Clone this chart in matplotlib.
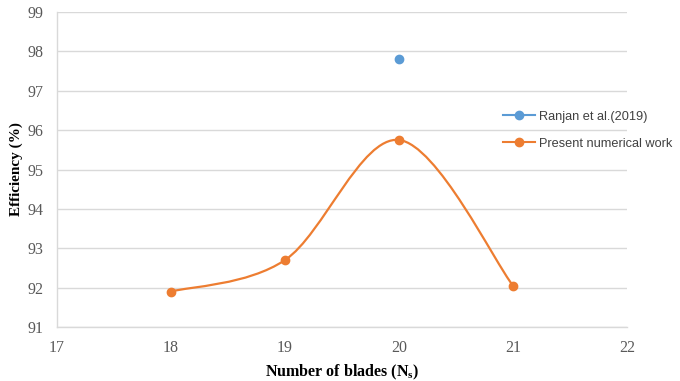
import matplotlib
matplotlib.use("Agg")
import matplotlib.pyplot as plt
from matplotlib.path import Path
from matplotlib.patches import PathPatch
import numpy as np

# Data
blades_ref = [20]
eff_ref = [97.8]
blades_num = [18, 19, 20, 21]
eff_num = [91.9, 92.7, 95.75, 92.05]

x_ticks = [17, 18, 19, 20, 21, 22]
y_ticks = [91, 92, 93, 94, 95, 96, 97, 98, 99]

BLUE = "#5b9bd5"
ORANGE = "#ed7d31"
GRID = "#d9d9d9"
TICK_COLOR = "#595959"


def smooth_path(xs, ys):
    """Bezier path through the points, Catmull-Rom style control points."""
    pts = np.column_stack([xs, ys]).astype(float)
    n = len(pts)
    verts = [pts[0]]
    codes = [Path.MOVETO]
    for i in range(n - 1):
        p0 = pts[i - 1] if i > 0 else pts[i]
        p1 = pts[i]
        p2 = pts[i + 1]
        p3 = pts[i + 2] if i + 2 < n else pts[i + 1]
        c1 = p1 + (p2 - p0) / 6.0
        c2 = p2 - (p3 - p1) / 6.0
        verts += [c1, c2, p2]
        codes += [Path.CURVE4] * 3
    return Path(verts, codes)


fig = plt.figure(figsize=(6.8, 3.81), dpi=100)
ax = fig.add_axes([57 / 680, 1 - 327 / 381, (627 - 57) / 680, (327 - 12) / 381])

ax.set_xlim(17, 22)
ax.set_ylim(91, 99)
ax.set_xticks(x_ticks)
ax.set_yticks(y_ticks)

ax.grid(axis="y", color=GRID, linewidth=1.0)
ax.set_axisbelow(True)
for side in ["top", "right"]:
    ax.spines[side].set_visible(False)
ax.spines["left"].set_color(GRID)
ax.spines["bottom"].set_color(GRID)
ax.spines["left"].set_linewidth(1.0)
ax.spines["bottom"].set_linewidth(1.0)
ax.tick_params(axis="y", length=0, pad=10, colors=TICK_COLOR, labelsize=11.5)
ax.tick_params(axis="x", length=0, pad=9, colors=TICK_COLOR, labelsize=11.5)
for lab in ax.get_xticklabels() + ax.get_yticklabels():
    lab.set_family("Liberation Serif")

# Reference result
ax.plot(blades_ref, eff_ref, color=BLUE, marker="o", markersize=6,
        linewidth=1.5, label="Ranjan et al.(2019)")

# Present numerical work: smoothed curve with markers
ax.add_patch(PathPatch(smooth_path(blades_num, eff_num), facecolor="none",
                       edgecolor=ORANGE, linewidth=1.6))
ax.plot(blades_num, eff_num, linestyle="none", marker="o", markersize=6,
        color=ORANGE)
ax.plot([], [], color=ORANGE, marker="o", markersize=6, linewidth=1.5,
        label="Present numerical work")

leg = ax.legend(loc="upper left", bbox_to_anchor=(0.782, 0.686), frameon=False,
                prop={"family": "Liberation Sans", "size": 9.2},
                handlelength=2.5, handletextpad=0.3, labelspacing=1.15,
                borderaxespad=0, borderpad=0)
for t in leg.get_texts():
    t.set_color("#404040")
leg.set_clip_on(False)

ax.set_xlabel("Number of blades (N$_\\mathregular{s}$)", family="Liberation Serif",
              fontweight="bold", fontsize=11.5, labelpad=5)
ax.set_ylabel("Efficiency (%)", family="Liberation Serif", fontweight="bold",
              fontsize=11, labelpad=3)

fig.savefig("out.png", dpi=100)
